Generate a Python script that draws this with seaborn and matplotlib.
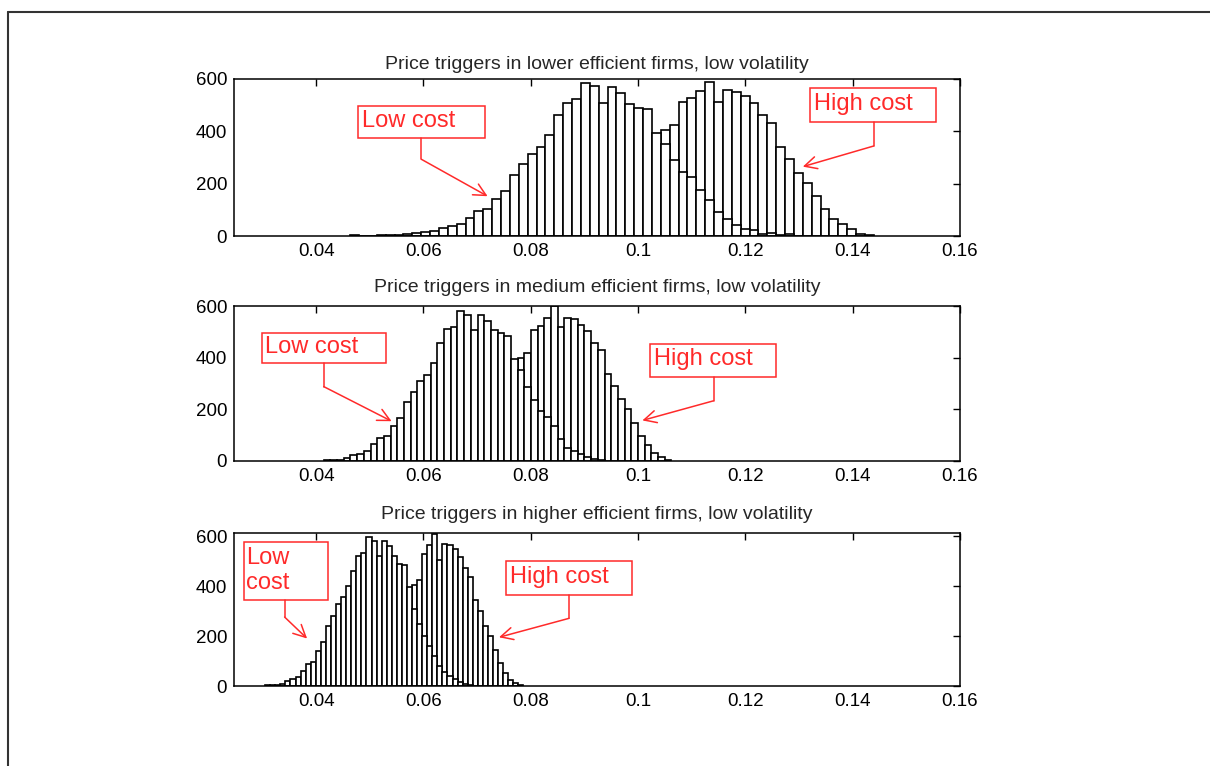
import numpy as np
import pandas as pd
import matplotlib
matplotlib.use("Agg")
import matplotlib.pyplot as plt
import seaborn as sns
from matplotlib.patches import Rectangle
from matplotlib.lines import Line2D

# panel titles
titles = [
    "Price triggers in lower efficient firms, low volatility",
    "Price triggers in medium efficient firms, low volatility",
    "Price triggers in higher efficient firms, low volatility",
]

# bin width of each panel and first bin edge of each series
bin_width = [0.001654, 0.001246, 0.000944]
low_start = [0.04636, 0.04142, 0.03050]
high_start = [0.08440, 0.06385, 0.04655]

# counts per bin
low_top = [4, 0, 0, 3, 4, 5, 8, 10, 14, 20, 32, 38, 44, 70, 96, 103, 140, 173, 233, 275,
           313, 340, 385, 462, 507, 522, 585, 572, 507, 571, 545, 506, 488, 486, 393, 352,
           290, 246, 226, 175, 137, 92, 64, 43, 28, 22, 9, 11, 5, 8]
high_top = [5, 10, 18, 30, 45, 70, 100, 140, 175, 230, 290, 330, 406, 426, 513, 528, 554,
            588, 513, 558, 550, 535, 509, 464, 432, 340, 294, 240, 201, 153, 105, 66, 45,
            26, 9, 4]

low_mid = [3, 4, 4, 12, 24, 28, 37, 64, 88, 95, 135, 167, 227, 269, 310, 333, 381, 458,
           512, 519, 580, 567, 509, 567, 541, 509, 496, 482, 395, 352, 285, 237, 195, 169,
           135, 84, 50, 38, 26, 15, 9, 4]
high_mid = [5, 10, 20, 35, 55, 85, 120, 170, 220, 280, 330, 399, 418, 508, 521, 553, 600,
            520, 553, 548, 527, 505, 456, 430, 336, 291, 240, 201, 146, 98, 60, 30, 15, 5]

low_bot = [3, 3, 4, 10, 20, 27, 36, 60, 88, 96, 140, 175, 240, 280, 330, 355, 400, 460,
           522, 534, 595, 582, 522, 580, 560, 522, 490, 485, 398, 310, 250, 200, 160, 120,
           80, 55, 40, 30, 18, 10, 4]
high_bot = [4, 8, 15, 25, 40, 60, 90, 130, 180, 230, 280, 330, 405, 425, 530, 566, 610,
            505, 570, 565, 550, 517, 471, 438, 345, 299, 240, 200, 146, 94, 54, 24, 11, 4]

low_counts = [low_top, low_mid, low_bot]
high_counts = [high_top, high_mid, high_bot]

x_ticks = [0.04, 0.06, 0.08, 0.1, 0.12, 0.14, 0.16]
x_tick_labels = ["0.04", "0.06", "0.08", "0.1", "0.12", "0.14", "0.16"]
y_ticks = [0, 200, 400, 600]
y_tops = [600, 600, 612]
title_pads = [7, 10, 10]

# callouts: text, box (x0, x1, y0, y1), text pos, stem x, elbow y, arrow tip
callouts = [
    [("Low cost", (0.04772, 0.07144, 375, 498), (0.04847, 440), 0.05963, 293, (0.07196, 152)),
     ("High cost", (0.13207, 0.15544, 435, 567), (0.13277, 505), 0.14393, 344, (0.1307, 265))],
    [("Low cost", (0.02991, 0.05308, 378, 496), (0.03052, 441), 0.04142, 288, (0.05407, 154)),
     ("High cost", (0.1023, 0.1257, 326, 453), (0.1030, 395), 0.11407, 233, (0.1008, 157))],
    [("Low\ncost", (0.02647, 0.04217, 343, 576), (0.02697, 462), 0.03413, 276, (0.03832, 190)),
     ("High cost", (0.07538, 0.09893, 363, 499), (0.07613, 435), 0.08716, 271, (0.07408, 195))],
]

RED = "#ff2a2a"

sns.set_style("white")
plt.rcParams["font.family"] = ["Liberation Sans", "DejaVu Sans"]

fig = plt.figure(figsize=(12.1, 7.66), dpi=100)
positions = [
    [0.1934, 0.6919, 0.6, 0.2050],
    [0.1934, 0.3982, 0.6, 0.2023],
    [0.1934, 0.1044, 0.6, 0.1997],
]


def draw_hist(ax, start, width, counts):
    n = len(counts)
    edges = [start + width * j for j in range(n + 1)]
    df = pd.DataFrame({
        "center": [(edges[j] + edges[j + 1]) / 2 for j in range(n)],
        "count": counts,
    })
    sns.histplot(data=df, x="center", weights="count", bins=edges, ax=ax,
                 color="white", edgecolor="black", linewidth=1.2, alpha=1)


for i in range(3):
    ax = fig.add_axes(positions[i])
    # high cost first, low cost drawn on top
    draw_hist(ax, high_start[i], bin_width[i], high_counts[i])
    draw_hist(ax, low_start[i], bin_width[i], low_counts[i])

    ax.set_xlim(0.0247, 0.16)
    ax.set_ylim(0, y_tops[i])
    ax.set_xticks(x_ticks)
    ax.set_xticklabels(x_tick_labels)
    ax.set_yticks(y_ticks)
    ax.set_xlabel("")
    ax.set_ylabel("")
    ax.tick_params(direction="in", top=True, right=True, length=5, width=1,
                   labelsize=13.5, colors="black", pad=5)
    for s in ax.spines.values():
        s.set_color("black")
        s.set_linewidth(1.1)
    ax.set_title(titles[i], fontsize=14, pad=title_pads[i])

    for text, box, tpos, stem_x, elbow_y, tip in callouts[i]:
        x0, x1, y0, y1 = box
        ax.add_patch(Rectangle((x0, y0), x1 - x0, y1 - y0, facecolor="white",
                               edgecolor=RED, linewidth=1.1, zorder=5, clip_on=False))
        ax.text(tpos[0], tpos[1], text, color=RED, fontsize=17, ha="left",
                va="center", zorder=6, linespacing=1.15)
        ax.plot([stem_x, stem_x], [y0, elbow_y], color=RED, lw=1.1, zorder=5)
        ax.annotate("", xy=tip, xytext=(stem_x, elbow_y),
                    arrowprops=dict(arrowstyle="->", color=RED, lw=1.1,
                                    mutation_scale=22, shrinkA=0, shrinkB=0),
                    zorder=5)

# page frame
fig.add_artist(Line2D([8 / 1210, 8 / 1210], [0, 1 - 12 / 766], transform=fig.transFigure,
                      color="#333333", lw=1.5))
fig.add_artist(Line2D([8 / 1210, 1], [1 - 12 / 766, 1 - 12 / 766], transform=fig.transFigure,
                      color="#333333", lw=1.5))

fig.savefig("out.png", dpi=100)
